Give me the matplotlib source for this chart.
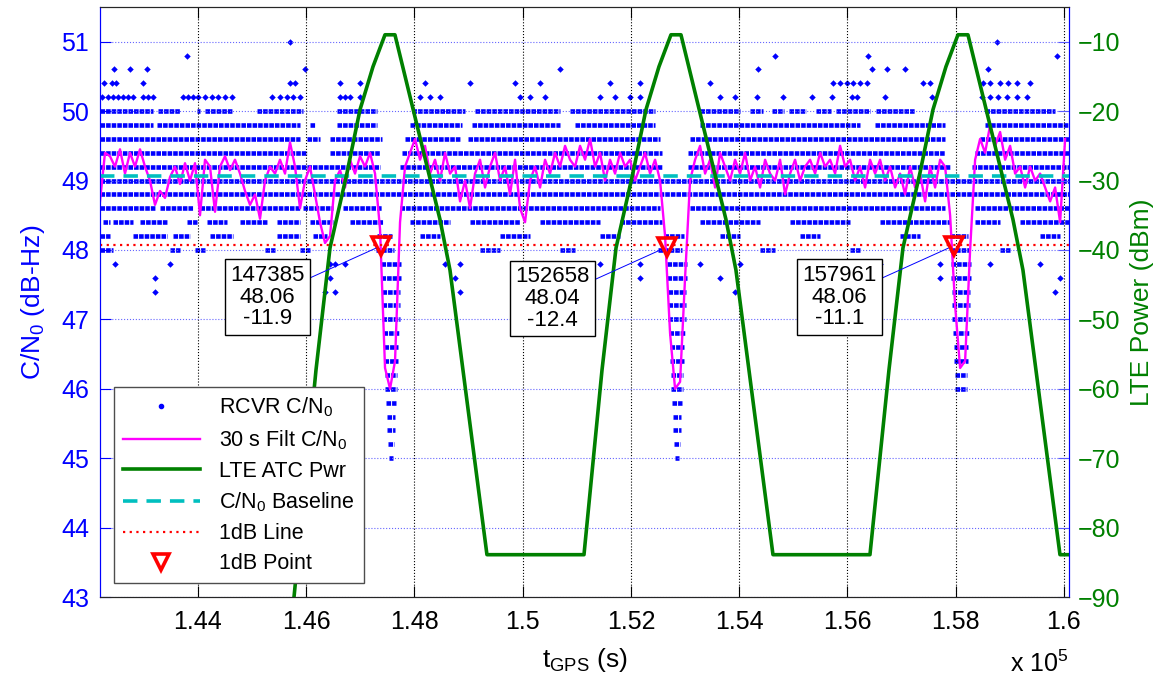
import numpy as np
import matplotlib.pyplot as plt
from matplotlib.ticker import FuncFormatter

plt.rcParams['font.family'] = ['Liberation Sans', 'DejaVu Sans']
plt.rcParams['mathtext.fontset'] = 'custom'
plt.rcParams['mathtext.rm'] = 'Liberation Sans'
plt.rcParams['mathtext.it'] = 'Liberation Sans:italic'

# ---- data ----
# 30 s filtered C/N0, sampled every ~92 s from t0
filt_t0 = 142190
filt_dt = 92.4
filt_cn0 = [
    48.7, 49.4, 49.35, 49.2, 49.45, 49.1, 49.4, 49.2, 49.45, 49.2,
    49.0, 48.65, 48.85, 48.75, 49.05, 49.2, 48.95, 49.25, 49.0, 49.25,
    48.5, 49.3, 49.2, 48.55, 49.2, 49.35, 49.15, 49.3, 49.1, 48.85,
    48.65, 48.8, 48.45, 49.0, 49.2, 49.1, 49.3, 49.1, 49.55, 49.2,
    48.6, 49.0, 49.2, 48.8, 48.4, 48.1, 48.2, 49.0, 49.15, 48.9,
    49.3, 49.1, 49.35, 49.2, 49.4, 49.1, 48.3, 46.3, 46.0, 46.4,
    48.4, 49.2, 49.4, 49.6, 49.3, 49.5, 49.1, 49.3, 49.0, 49.4,
    49.1, 49.2, 48.7, 49.0, 48.6, 49.1, 49.3, 48.9, 49.2, 49.4,
    49.0, 49.2, 48.8, 49.3, 48.6, 48.4, 49.0, 49.2, 48.9, 49.3,
    49.1, 49.4, 49.2, 49.5, 49.3, 49.2, 49.5, 49.3, 49.6, 49.2,
    49.4, 49.0, 49.3, 49.1, 49.4, 49.2, 49.3, 49.0, 49.2, 49.4,
    49.1, 49.3, 49.0, 48.2, 46.8, 46.0, 46.1, 47.6, 49.0, 49.3,
    49.5, 49.1, 49.3, 48.9, 49.4, 49.2, 49.0, 49.3, 49.1, 49.4,
    49.0, 49.2, 48.9, 49.3, 49.1, 49.0, 49.3, 48.8, 49.1, 49.3,
    49.0, 49.2, 49.3, 49.1, 49.4, 49.2, 49.3, 49.1, 49.5, 49.2,
    49.3, 49.0, 49.2, 48.9, 49.3, 49.1, 49.3, 49.0, 49.2, 48.9,
    49.1, 48.8, 49.2, 48.9, 49.1, 48.7, 49.2, 48.9, 49.3, 49.2,
    48.5, 47.2, 46.3, 46.4, 48.0, 49.3, 49.6, 49.4, 49.8, 49.5,
    49.7, 49.3, 49.5, 49.1, 49.2, 48.9, 49.2, 49.0, 49.1, 48.9,
    48.7, 48.9, 48.4, 49.6,
]

# LTE ATC power (dBm)
lte_t = [145701, 145775, 146181, 146440, 146754, 146994, 147234, 147456, 147640,
         148472, 148657, 149340, 151133,
         151466, 151725, 152038, 152278, 152518, 152740, 152925,
         153756, 153941, 154625, 156417,
         156768, 157027, 157341, 157581, 157821, 158043, 158228,
         159059, 159244, 159928, 160094]
lte_p = [-93.3, -90.0, -57.3, -39.7, -28.9, -19.8, -13.6, -9.0, -9.0,
         -35.6, -42.9, -83.9, -83.9,
         -57.3, -39.7, -28.9, -19.8, -13.6, -9.0, -9.0,
         -35.6, -42.9, -83.9, -83.9,
         -57.3, -39.7, -28.9, -19.8, -13.6, -9.0, -9.0,
         -35.6, -42.9, -83.9, -83.9]

cn0_baseline = 49.07
line_1db = 48.07

# 1dB points: time, C/N0, LTE power
pt_t = [147385, 152658, 157961]
pt_cn0 = [48.06, 48.04, 48.06]
pt_lte = [-11.9, -12.4, -11.1]

# receiver C/N0 (0.2 dB steps): rows of dense samples as (start, end) times
row_full = [(142190, 160094)]
row_49_2 = [(142190, 147364), (147733, 152574), (153055, 157896), (158302, 160094)]
row_49_4 = [(142190, 146015), (146440, 147364), (147771, 152574), (153055, 157803),
            (158359, 160094)]
row_49_6 = [(142190, 145885), (146015, 146255), (146440, 147401), (147826, 148842),
            (148990, 152537), (153092, 157803), (158450, 160094)]
row_49_8 = [(142190, 143169), (143243, 145885), (146070, 146163), (146569, 147308),
            (147918, 148879), (149064, 150690), (150967, 152445), (153276, 156232),
            (156510, 157803), (158542, 160094)]
row_50_0 = [(142190, 143169), (143262, 143668), (143982, 144038), (144130, 144629),
            (145091, 145941), (146569, 147308), (147955, 148934), (149119, 150690),
            (150875, 152445), (153276, 154015), (154200, 154440), (154600, 154830),
            (154930, 155240), (155420, 155700), (155790, 156420), (156530, 157250),
            (158542, 159840)]
row_48_6 = [(142190, 143206), (143299, 143908), (144038, 145885), (145941, 146495),
            (146680, 147401), (147733, 152537), (153092, 157803), (158359, 160094)]
row_48_4 = [(142245, 142375), (142430, 142800), (142929, 143428), (143798, 143982),
            (144167, 144537), (144777, 145276), (145461, 145885), (146070, 146495),
            (146809, 147420), (147918, 148657), (149027, 149951), (150320, 151429),
            (151798, 152574), (153276, 154385), (154939, 156048), (156602, 157896),
            (158359, 158819), (159189, 160094)]
row_48_2 = [(142190, 142375), (142800, 143428), (143539, 143853), (144222, 144648),
            (145461, 145885), (146126, 146385), (147309, 147586), (148103, 148473),
            (149581, 150135), (151429, 151798), (152611, 152981), (153646, 154015),
            (155124, 155493), (156972, 157341), (157896, 158229), (159558, 159928)]
row_48_0 = [(142190, 142430), (143483, 143668), (143945, 144130), (145239, 145424),
            (145885, 146070), (147290, 147623), (149212, 149581), (150690, 150967),
            (152500, 152944), (154385, 154662), (156048, 156232), (157896, 158265),
            (158819, 159004)]

# columns of samples during the three fades
dip_levels = [47.8, 47.6, 47.4, 47.2, 47.0, 46.8, 46.6, 46.4, 46.2, 46.0,
              45.8, 45.6, 45.4, 45.2, 45.0]
dip1_t0 = [147382, 147382, 147401, 147401, 147401, 147419, 147438, 147438, 147456,
           147456, 147475, 147493, 147493, 147512, 147530]
dip1_t1 = [147752, 147752, 147733, 147733, 147733, 147715, 147696, 147696, 147678,
           147678, 147659, 147641, 147641, 147622, 147604]
dip2_t0 = [152667, 152667, 152686, 152686, 152686, 152704, 152723, 152723, 152741,
           152741, 152760, 152778, 152778, 152797, 152815]
dip2_t1 = [153037, 153037, 153018, 153018, 153018, 153000, 152981, 152981, 152963,
           152963, 152944, 152926, 152926, 152907, 152889]
dip3_levels = [47.8, 47.6, 47.4, 47.2, 47.0, 46.8, 46.6, 46.4, 46.2, 46.0]
dip3_t0 = [157914, 157914, 157933, 157933, 157933, 157951, 157970, 157970, 157988, 157988]
dip3_t1 = [158284, 158284, 158265, 158265, 158265, 158247, 158228, 158228, 158210, 158210]

# sparse samples on the 50.2 dB-Hz row
pts_50_2_t = [142227, 142338, 142430, 142523, 142615, 142707, 142800, 142985, 143077,
              143169, 143724, 143816, 143909, 144001, 144130, 144260, 144371, 144500,
              144629, 145369, 145516, 145646, 145757, 145886, 146625, 146718, 146810,
              146995, 148104, 148288, 148473, 149952, 150136, 150414, 151430, 151707,
              151984, 152169, 153648, 153925, 154331, 154812, 155348, 155717, 156087,
              156179, 156697, 157565, 158489, 158637, 158785, 158951, 159136, 159321]

# other single samples
pts_t = [142449, 142744, 143058, 145977, 143798, 145701, 158767, 159875,
         142264, 142412, 142486, 142984, 145701, 145793, 146624, 146994,
         148195, 149027, 149859, 150320, 150690, 151614, 152168, 153461,
         155736, 155865, 155995, 156105, 156235, 156364, 157399, 157528,
         158508, 158637, 158822, 158970, 159136, 159376,
         154350, 156457, 156734, 157066, 158600, 154664, 156383,
         142467, 143483, 144962, 146440, 146532, 146717, 148565, 148842,
         150320, 151429, 152168, 153276, 154015, 155493, 156602, 157711,
         158635, 159558,
         143206, 146440, 148750, 152168, 153646, 157711, 159928,
         143206, 146347, 146532, 148842, 153923, 159835]
pts_v = [50.6, 50.6, 50.6, 50.6, 50.8, 51.0, 51.0, 50.8,
         50.4, 50.4, 50.4, 50.4, 50.4, 50.4, 50.4, 50.4,
         50.4, 50.4, 50.4, 50.4, 50.6, 50.4, 50.4, 50.4,
         50.4, 50.4, 50.4, 50.4, 50.4, 50.4, 50.4, 50.4,
         50.4, 50.4, 50.4, 50.4, 50.4, 50.4,
         50.6, 50.6, 50.6, 50.6, 50.6, 50.8, 50.8,
         47.8, 47.8, 47.8, 47.8, 47.8, 47.8, 47.8, 47.8,
         47.8, 47.8, 47.8, 47.8, 47.8, 47.8, 47.8, 47.8,
         47.8, 47.8,
         47.6, 47.6, 47.6, 47.6, 47.6, 47.6, 47.6,
         47.4, 47.4, 47.4, 47.4, 47.4, 47.4]

# ---- figure ----
BLUE = (0, 0, 1)
GREEN = (0, 0.5, 0)
MAG = (1, 0, 1)
CYAN = (0, 0.75, 0.75)

fig = plt.figure(figsize=(11.56, 6.81), dpi=100)
ax = fig.add_axes([0.0865, 0.1233, 0.8382, 0.8664])
ax2 = ax.twinx()

# rows of receiver samples drawn as chains of dots
band_lw = 3.3
band_ls = (0, (1.0, 0.22))
rows = [(49.0, row_full), (48.8, row_full), (49.2, row_49_2), (49.4, row_49_4),
        (49.6, row_49_6), (49.8, row_49_8), (50.0, row_50_0),
        (48.6, row_48_6), (48.4, row_48_4), (48.2, row_48_2), (48.0, row_48_0)]
for lvl, segs in rows:
    ax.hlines([lvl] * len(segs), [s[0] for s in segs], [s[1] for s in segs],
              colors=[BLUE], lw=band_lw, linestyles=[band_ls], zorder=1)
ax.hlines(dip_levels, dip1_t0, dip1_t1, colors=[BLUE], lw=band_lw,
          linestyles=[band_ls], zorder=1)
ax.hlines(dip_levels, dip2_t0, dip2_t1, colors=[BLUE], lw=band_lw,
          linestyles=[band_ls], zorder=1)
ax.hlines(dip3_levels, dip3_t0, dip3_t1, colors=[BLUE], lw=band_lw,
          linestyles=[band_ls], zorder=1)
ax.plot(pts_50_2_t, [50.2] * len(pts_50_2_t), 'D', color=BLUE, ms=3.3, mew=0,
        zorder=1)
ax.plot(pts_t, pts_v, 'D', color=BLUE, ms=3.3, mew=0, zorder=1)
h_rcvr, = ax.plot([], [], '.', color=BLUE, ms=6)

t_filt = filt_t0 + filt_dt * np.arange(len(filt_cn0))
h_filt, = ax.plot(t_filt, filt_cn0, color=MAG, lw=1.7, zorder=3)
h_base = ax.axhline(cn0_baseline, color=CYAN, lw=2.6, ls=(0, (4, 2.5)), zorder=4)
h_1db = ax.axhline(line_1db, color='r', lw=1.6, ls=(0, (1, 2)), zorder=4)
h_pt, = ax.plot(pt_t, pt_cn0, 'v', mfc='none', mec='r', mew=2.6, ms=13, zorder=5)

h_lte, = ax2.plot(lte_t, lte_p, color=GREEN, lw=2.6)

for t, c, p in zip(pt_t, pt_cn0, pt_lte):
    ax2.annotate(f'{t}\n{c:.2f}\n{p:.1f}', xy=(t, c), xycoords=ax.transData,
                 xytext=(-82, -37), textcoords='offset points',
                 ha='center', va='center', fontsize=16, linespacing=1.05,
                 bbox=dict(boxstyle='square,pad=0.25', fc='white', ec='k', lw=1),
                 arrowprops=dict(arrowstyle='-', color=BLUE, lw=0.7,
                                 shrinkA=0, shrinkB=4))

# axes styling
ax.set_xlim(142190, 160094)
ax.set_ylim(43, 51.5)
ax2.set_ylim(-90, -5)
ax.set_xticks(np.arange(144000, 160001, 2000))
ax.xaxis.set_major_formatter(FuncFormatter(lambda v, p: f'{v / 1e5:g}'))
ax.set_yticks(np.arange(43, 52, 1))
ax2.set_yticks(np.arange(-90, -9, 10))

ax.tick_params(axis='x', direction='in', length=8, top=True, labelsize=18,
               colors='k', pad=9)
ax.tick_params(axis='y', direction='in', length=8, labelsize=18,
               colors=BLUE, labelcolor=BLUE, pad=8)
ax2.tick_params(axis='y', direction='in', length=8, labelsize=18,
                colors=(0.35, 0.35, 1), labelcolor=GREEN, pad=6)
ax.grid(axis='x', color='k', ls=':', lw=0.8)
ax.grid(axis='y', color=(0.4, 0.4, 1), ls=':', lw=0.8)

for a in (ax, ax2):
    a.spines['left'].set_color(BLUE)
    a.spines['right'].set_color(BLUE)
    a.spines['top'].set_color((0.15, 0.15, 0.15))
    a.spines['bottom'].set_color((0.15, 0.15, 0.15))

ax.set_xlabel(r't$_{\mathrm{GPS}}$ (s)', fontsize=19, labelpad=9)
ax.set_ylabel(r'C/N$_{\mathrm{0}}$ (dB-Hz)', fontsize=19, color=BLUE, labelpad=10)
ax2.set_ylabel('LTE Power (dBm)', fontsize=19, color=GREEN, labelpad=7)
ax.text(1.0, -0.113, r'x 10$^{5}$', transform=ax.transAxes, ha='right',
        va='center', fontsize=18)

leg = ax2.legend([h_rcvr, h_filt, h_lte, h_base, h_1db, h_pt],
                 ['RCVR C/N$_0$', '30 s Filt C/N$_0$', 'LTE ATC Pwr',
                  'C/N$_0$ Baseline', '1dB Line', '1dB Point'],
                 loc='lower left', bbox_to_anchor=(0.0144, 0.0237),
                 borderaxespad=0, fontsize=15.5, handlelength=3.6,
                 handletextpad=0.9, labelspacing=0.42, borderpad=0.4,
                 fancybox=False, framealpha=1, edgecolor=(0.3, 0.3, 0.3))
leg.get_frame().set_linewidth(1.0)
for lh in leg.legend_handles:
    if lh.get_marker() == 'v':
        lh.set_markersize(11)

fig.savefig('out.png', dpi=100)
